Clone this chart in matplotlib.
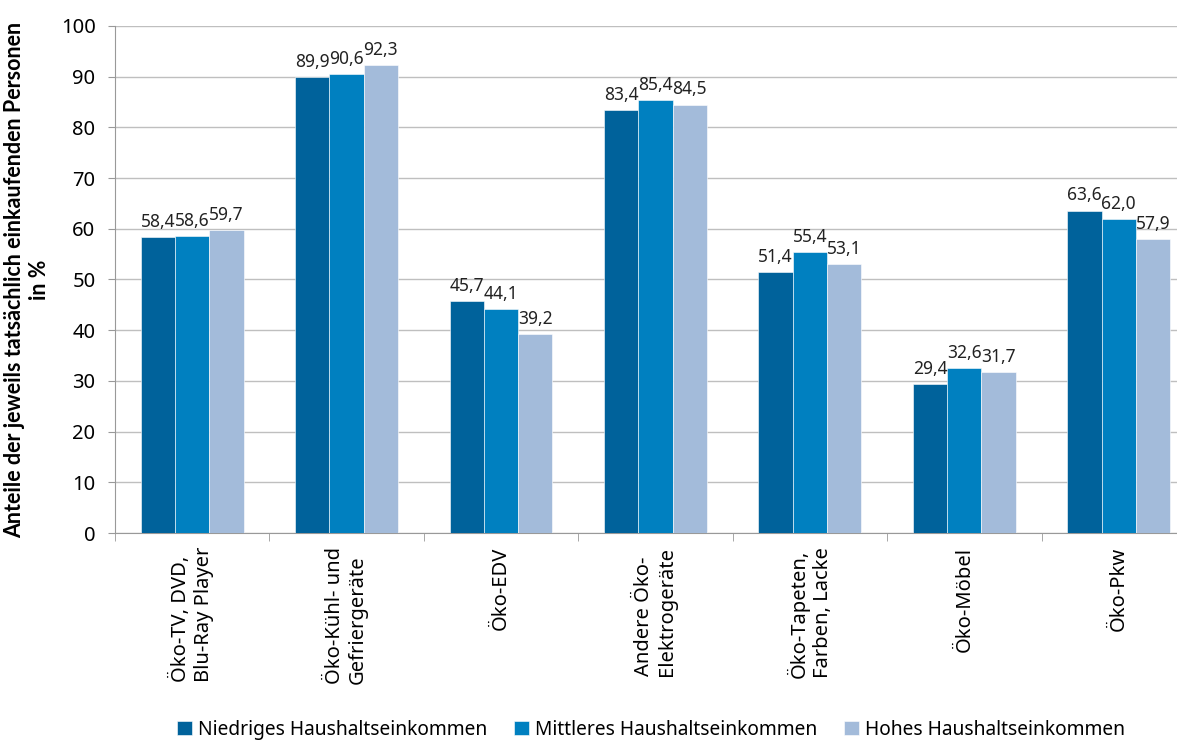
import matplotlib.pyplot as plt
import numpy as np

# Daten
kategorien = ["Öko-TV, DVD,\nBlu-Ray Player", "Öko-Kühl- und\nGefriergeräte", "Öko-EDV",
              "Andere Öko-\nElektrogeräte", "Öko-Tapeten,\nFarben, Lacke", "Öko-Möbel", "Öko-Pkw"]
niedrig = [58.4, 89.9, 45.7, 83.4, 51.4, 29.4, 63.6]
mittel = [58.6, 90.6, 44.1, 85.4, 55.4, 32.6, 62.0]
hoch = [59.7, 92.3, 39.2, 84.5, 53.1, 31.7, 57.9]
serien = ["Niedriges Haushaltseinkommen", "Mittleres Haushaltseinkommen", "Hohes Haushaltseinkommen"]
farben = ["#00629B", "#0080C0", "#A3BBDA"]

plt.rcParams['font.family'] = ['Noto Sans', 'DejaVu Sans']

fig = plt.figure(figsize=(11.77, 7.4), dpi=100)
ax = fig.add_axes([0.0977, 0.2797, 0.9184, 0.6852])

x = np.arange(len(kategorien))
w = 0.222
for i, (werte, name, farbe) in enumerate(zip([niedrig, mittel, hoch], serien, farben)):
    pos = x + (i - 1) * w
    ax.bar(pos, werte, width=w, color=farbe, label=name, zorder=3,
           edgecolor='white', linewidth=0.4)
    for px, v in zip(pos, werte):
        ax.text(px, v + 1.2, f"{v:.1f}".replace('.', ','), ha='center', va='bottom',
                fontsize=12.5, color='#222222', zorder=4)

ax.set_xlim(-0.5, len(kategorien) - 0.5)
ax.set_ylim(0, 100)
ax.set_yticks(range(0, 101, 10))
ax.tick_params(axis='y', labelsize=14.5, length=5, color='#999999', pad=9)
ax.yaxis.grid(True, color='#BFBFBF', linewidth=1, zorder=0)

ax.set_xticks(x)
ax.set_xticklabels(kategorien, rotation=90, fontsize=14.5, va='top', ha='center',
                   multialignment='left')
ax.tick_params(axis='x', which='major', length=0, pad=10)
ax.set_xticks(np.arange(-0.5, len(kategorien)), minor=True)
ax.tick_params(axis='x', which='minor', length=6, color='#999999')

for s in ['top', 'right']:
    ax.spines[s].set_visible(False)
for s in ['left', 'bottom']:
    ax.spines[s].set_color('#999999')

ax.set_ylabel("Anteile der jeweils tatsächlich einkaufenden Personen\nin %",
              fontsize=15.5, fontweight='bold', family=['Lato', 'DejaVu Sans'],
              labelpad=8, linespacing=1.2)

fig.legend(loc='center', bbox_to_anchor=(0.553, 0.014), ncol=3, frameon=False,
           fontsize=13.8, handlelength=0.8, handleheight=0.8, handletextpad=0.3,
           columnspacing=1.4)

plt.savefig("out.png", dpi=100)
